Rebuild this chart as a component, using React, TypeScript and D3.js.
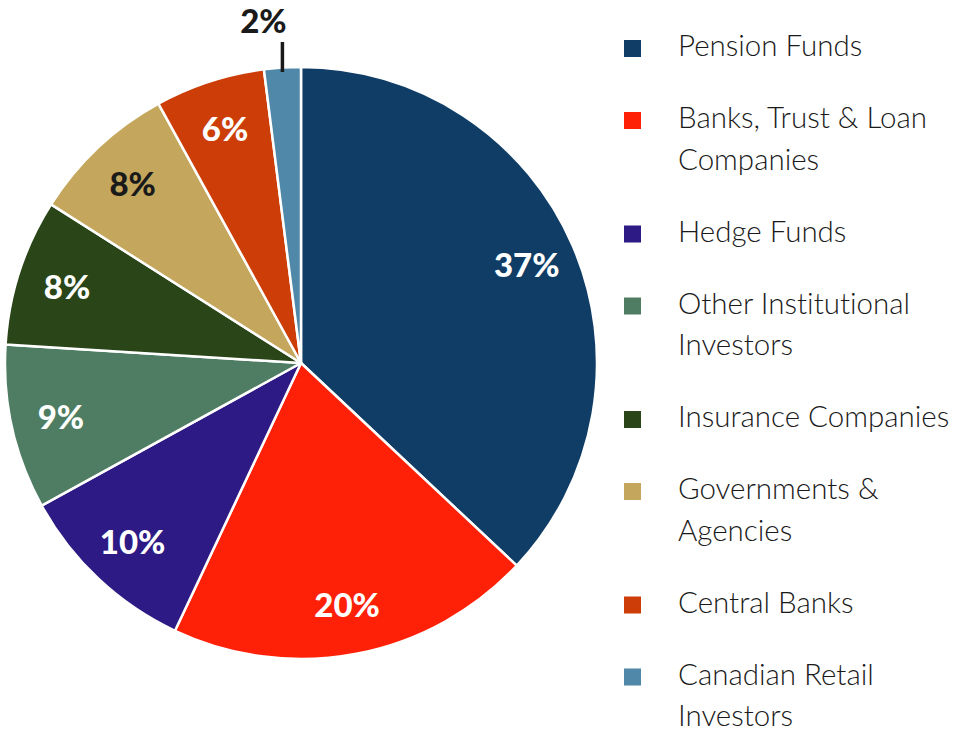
import React from "react";
import * as d3 from "d3";

const categories = [
  "Pension Funds",
  "Banks, Trust & Loan Companies",
  "Hedge Funds",
  "Other Institutional Investors",
  "Insurance Companies",
  "Governments & Agencies",
  "Central Banks",
  "Canadian Retail Investors",
];
const legendLines = [
  ["Pension Funds"],
  ["Banks, Trust & Loan", "Companies"],
  ["Hedge Funds"],
  ["Other Institutional", "Investors"],
  ["Insurance Companies"],
  ["Governments &", "Agencies"],
  ["Central Banks"],
  ["Canadian Retail", "Investors"],
];
const values = [37, 20, 10, 9, 8, 8, 6, 2];
const colors = ["#0f3d66", "#ff2008", "#2e1a85", "#4f7d63", "#2a4517", "#c4a75c", "#cc3d08", "#4f88a8"];
const labelColors = ["#fff", "#fff", "#fff", "#fff", "#fff", "#1a1a1a", "#fff", "#1a1a1a"];

const W = 969, H = 737;
const cx = 301, cy = 363, R = 296;
const FONT = "Lato, 'Open Sans', sans-serif";

export default function App() {
  const pie = d3.pie<number>().sort(null).value((d) => d);
  const arcs = pie(values);
  const arc = d3.arc<d3.PieArcDatum<number>>().innerRadius(0).outerRadius(R);
  const labelArc = d3.arc<d3.PieArcDatum<number>>().innerRadius(246).outerRadius(246);

  const lineH = 41.5, itemGap = 72;
  let y = 56;
  const legendItems = legendLines.map((lines, i) => {
    const base = y;
    y += (lines.length - 1) * lineH + itemGap;
    return { lines, base, i };
  });

  return (
    <svg width={W} height={H} style={{ position: "absolute", left: 0, top: 0, background: "#fff", fontVariantLigatures: "none" }}>
      <g transform={`translate(${cx},${cy})`}>
        {arcs.map((a, i) => (
          <path key={i} d={arc(a) as string} fill={colors[i]} stroke="#fff" strokeWidth={2.5} strokeLinejoin="round" />
        ))}
        {arcs.map((a, i) => {
          if (i === arcs.length - 1) {
            const mid = (a.startAngle + a.endAngle) / 2;
            const x = Math.sin(mid) * R;
            return (
              <g key={"l" + i}>
                <line x1={x} x2={x} y1={-R + 5} y2={-R - 25} stroke="#1a1a1a" strokeWidth={3.5} />
                <text x={x - 19} y={-R - 34} textAnchor="middle" fontFamily={FONT} fontWeight={900} fontSize={33} fill={labelColors[i]}>
                  {values[i]}%
                </text>
              </g>
            );
          }
          const [lx, ly] = labelArc.centroid(a);
          return (
            <text key={"l" + i} x={lx} y={ly} dy="0.36em" textAnchor="middle" fontFamily={FONT} fontWeight={900} fontSize={33} fill={labelColors[i]}>
              {values[i]}%
            </text>
          );
        })}
      </g>
      <g>
        {legendItems.map(({ lines, base, i }) => (
          <g key={categories[i]}>
            <rect x={624} y={base - 16} width={17} height={17} fill={colors[i]} />
            {lines.map((t, j) => (
              <text key={j} x={678} y={base + j * lineH} fontFamily={FONT} fontWeight={300} fontSize={29.5} fill="#1a1a1a" style={{ fontVariantLigatures: "none" }}>
                {t}
              </text>
            ))}
          </g>
        ))}
      </g>
    </svg>
  );
}
